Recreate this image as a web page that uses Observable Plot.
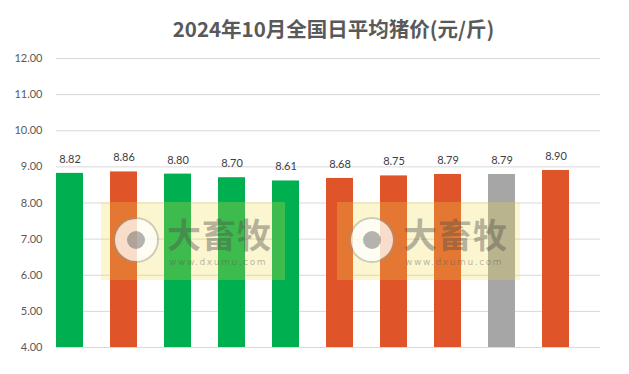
<!DOCTYPE html>
<html>
<head>
<meta charset="utf-8">
<script src="https://cdn.jsdelivr.net/npm/d3@7"></script>
<script src="https://cdn.jsdelivr.net/npm/@observablehq/plot@0.6"></script>
<style>
  html, body { margin: 0; padding: 0; background: #fff; }
  #wrap { position: relative; width: 629px; height: 374px; overflow: hidden; font-family: Lato, "Noto Sans", sans-serif; }
  #title { position: absolute; left: 38px; width: 591px; top: 13px; text-align: center; font-family: "Noto Sans CJK SC", sans-serif; font-weight: bold; font-size: 20.5px; color: #595959; }
  .wm { position: absolute; top: 202px; height: 78px; background: rgba(240,222,70,0.26); }
  .wm .logo { position: absolute; left: 14px; top: 17px; width: 42px; height: 42px; border-radius: 50%; background: rgba(255,255,255,0.75); box-shadow: 0 0 0 2px rgba(150,150,150,0.45); }
  .wm .eye { position: absolute; left: 12px; top: 12px; width: 18px; height: 18px; border-radius: 50%; background: rgba(90,90,90,0.45); }
  .wm .big { position: absolute; left: 66px; top: 15px; font-family: "Noto Sans CJK SC", sans-serif; font-weight: bold; font-size: 34px; line-height: 34px; color: rgba(80,80,80,0.42); letter-spacing: 1px; }
  .wm .url { position: absolute; left: 68px; top: 55px; font-family: "DejaVu Sans", sans-serif; font-size: 9px; line-height: 10px; color: rgba(90,90,90,0.45); letter-spacing: 1.6px; }
</style>
</head>
<body>
<div id="wrap">
  <div id="chart"></div>
  <div id="title"></div>
</div>
<script>
const titleText = "2024年10月全国日平均猪价(元/斤)";
const categories = ["1", "2", "3", "4", "5", "6", "7", "8", "9", "10"];
const prices = [8.82, 8.86, 8.80, 8.70, 8.61, 8.68, 8.75, 8.79, 8.79, 8.90];
const trends = ["down", "up", "down", "down", "down", "up", "up", "up", "flat", "up"];
const yTicks = [4, 5, 6, 7, 8, 9, 10, 11, 12];
const trendKeys = ["down", "up", "flat"];
const trendColors = ["#00B050", "#E0542A", "#A6A6A6"];
const watermarkMain = "大畜牧";
const watermarkUrl = "www.dxumu.com";

const data = categories.map((c, i) => ({day: c, price: prices[i], trend: trends[i]}));
const yMin = yTicks[0], yMax = yTicks[yTicks.length - 1];

document.getElementById("title").textContent = titleText;

const chart = Plot.plot({
  width: 629,
  height: 374,
  marginTop: 58,
  marginBottom: 27,
  marginLeft: 56,
  marginRight: 29,
  style: {fontFamily: "Lato, 'Noto Sans', sans-serif", background: "#fff"},
  x: {domain: categories, paddingInner: 0.5, paddingOuter: 0.25, align: 0, axis: null},
  y: {domain: [yMin, yMax], label: null},
  color: {domain: trendKeys, range: trendColors},
  marks: [
    Plot.gridY(yTicks, {stroke: "#D9D9D9", strokeOpacity: 1, strokeWidth: 1}),
    Plot.axisY(yTicks, {tickSize: 0, tickPadding: 14, tickFormat: d3.format(".2f"), fontSize: 11, fill: "#595959", label: null}),
    Plot.barY(data, {x: "day", y1: yMin, y2: "price", fill: "trend"}),
    Plot.text(data, {x: "day", y: "price", text: d => d.price.toFixed(2), dy: -14, fontSize: 11, fill: "#404040"})
  ]
});
document.getElementById("chart").appendChild(chart);

// decorative watermark overlays
[[101, 184], [337, 183]].forEach(([left, w]) => {
  const el = document.createElement("div");
  el.className = "wm";
  el.style.left = left + "px";
  el.style.width = w + "px";
  el.innerHTML = '<div class="logo"><div class="eye"></div></div><div class="big"></div><div class="url"></div>';
  el.querySelector(".big").textContent = watermarkMain;
  el.querySelector(".url").textContent = watermarkUrl;
  document.getElementById("wrap").appendChild(el);
});
</script>
</body>
</html>
